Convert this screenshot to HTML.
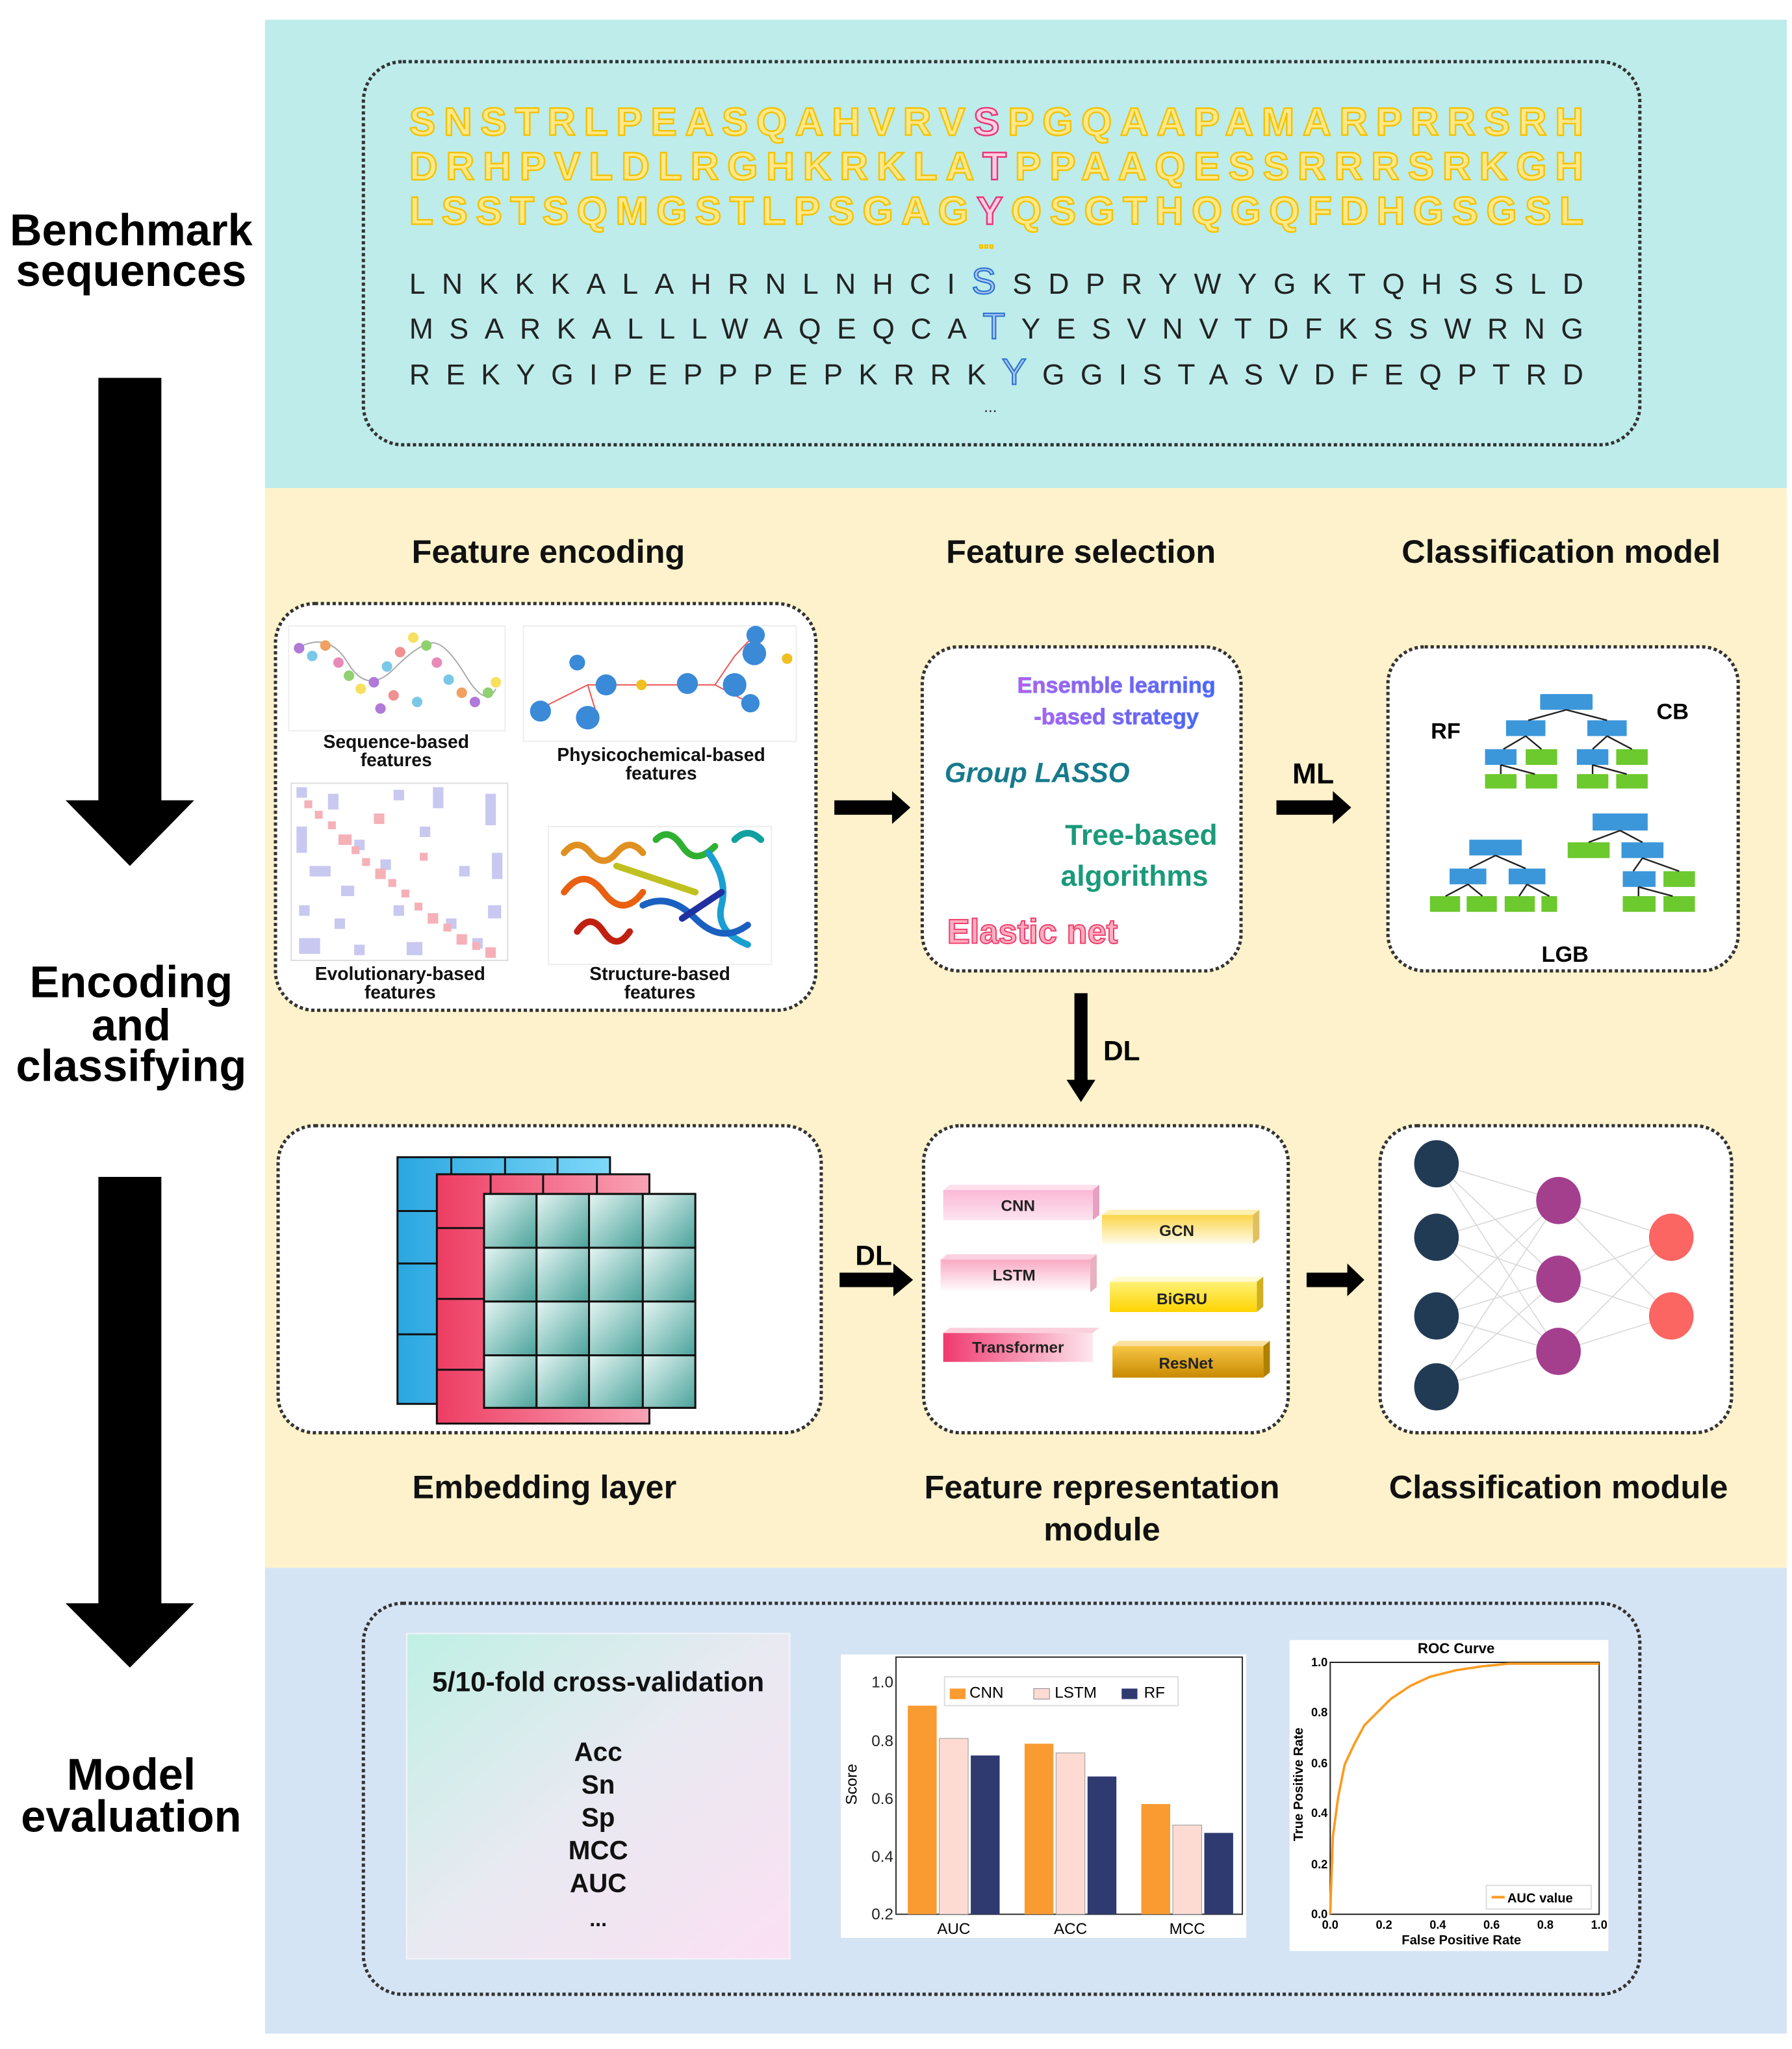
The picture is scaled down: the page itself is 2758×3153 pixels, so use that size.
<!DOCTYPE html>
<html><head><meta charset="utf-8"><style>
html,body{margin:0;padding:0;background:#fff}
svg{display:block}
text{font-family:"Liberation Sans",sans-serif}
</style></head><body>
<svg width="2758" height="3153" viewBox="0 0 1366 1561.7" preserveAspectRatio="none" xmlns="http://www.w3.org/2000/svg">
<defs>
<linearGradient id="gcv" x1="0" y1="0" x2="1" y2="1"><stop offset="0" stop-color="#bff0e4"/><stop offset="0.5" stop-color="#e9e9f2"/><stop offset="1" stop-color="#fbe0f3"/></linearGradient>
<linearGradient id="gpk" x1="0" y1="0" x2="0" y2="1"><stop offset="0" stop-color="#fbb8d6"/><stop offset="1" stop-color="#fde4ef"/></linearGradient>
<linearGradient id="gls" x1="0" y1="0" x2="0" y2="1"><stop offset="0" stop-color="#f9a9c3"/><stop offset="1" stop-color="#fff"/></linearGradient>
<linearGradient id="gtr" x1="0" y1="0" x2="1" y2="0"><stop offset="0" stop-color="#f0396f"/><stop offset="1" stop-color="#fde6ee"/></linearGradient>
<linearGradient id="ggc" x1="0" y1="0" x2="0" y2="1"><stop offset="0" stop-color="#fbd54a"/><stop offset="1" stop-color="#fffbe8"/></linearGradient>
<linearGradient id="gbg" x1="0" y1="0" x2="0" y2="1"><stop offset="0" stop-color="#fff176"/><stop offset="1" stop-color="#ffd400"/></linearGradient>
<linearGradient id="grs" x1="0" y1="0" x2="0" y2="1"><stop offset="0" stop-color="#f7c545"/><stop offset="1" stop-color="#c88a00"/></linearGradient>
<linearGradient id="gteal" x1="0" y1="0" x2="1" y2="1"><stop offset="0" stop-color="#e6f5f3"/><stop offset="1" stop-color="#4aa39b"/></linearGradient>
<linearGradient id="gblue" x1="0" y1="0" x2="1" y2="0"><stop offset="0" stop-color="#2aa7e0"/><stop offset="1" stop-color="#7ed8f8"/></linearGradient>
<linearGradient id="gred" x1="0" y1="0" x2="1" y2="0"><stop offset="0" stop-color="#ee3d63"/><stop offset="1" stop-color="#f9a3b6"/></linearGradient>
<linearGradient id="gens" x1="0" y1="0" x2="1" y2="0"><stop offset="0" stop-color="#c05ae8"/><stop offset="1" stop-color="#3a6af0"/></linearGradient>
</defs>

<!-- panels -->
<rect x="202" y="15" width="1160" height="357" fill="#bdeceb"/>
<rect x="202" y="372" width="1160" height="823" fill="#fdf2cb"/>
<rect x="202" y="1195" width="1160" height="355" fill="#d5e4f4"/>

<!-- left labels -->
<g font-weight="bold" font-size="34" text-anchor="middle" fill="#000">
<text x="100" y="187">Benchmark</text>
<text x="100" y="218">sequences</text>
<text x="100" y="760">Encoding</text>
<text x="100" y="793">and</text>
<text x="100" y="824">classifying</text>
<text x="100" y="1364">Model</text>
<text x="100" y="1396">evaluation</text>
</g>
<rect x="75" y="288" width="48" height="323" fill="#000"/>
<polygon points="50,610 148,610 99,660" fill="#000"/>
<rect x="75" y="897" width="48" height="326" fill="#000"/>
<polygon points="50,1222 148,1222 99,1271" fill="#000"/>

<!-- top sequence box -->
<rect x="277" y="47" width="973" height="292" rx="30" fill="none" stroke="#333" stroke-width="2.5" stroke-dasharray="2.5 2"/>
<g font-weight="bold" font-size="30" fill="#ffe88a" stroke="#f4c300" stroke-width="1.2">
<text x="312" y="103" textLength="895" lengthAdjust="spacing">SNSTRLPEASQAHVRV<tspan fill="#ffd0e0" stroke="#e8357a">S</tspan>PGQAAPAMARPRRSRH</text>
<text x="312" y="137" textLength="895" lengthAdjust="spacing">DRHPVLDLRGHKRKLA<tspan fill="#ffd0e0" stroke="#e8357a">T</tspan>PPAAQESSRRRSRKGH</text>
<text x="312" y="171" textLength="895" lengthAdjust="spacing">LSSTSQMGSTLPSGAG<tspan fill="#ffd0e0" stroke="#e8357a">Y</tspan>QSGTHQGQFDHGSGSL</text>
<text x="746" y="189" font-size="14">...</text>
</g>
<g font-size="22" fill="#222">
<text x="312" y="224" textLength="895" lengthAdjust="spacing">LNKKKALAHRNLNHCI<tspan font-size="28" fill="#a8c8f0" stroke="#2a6fd0" stroke-width="1">S</tspan>SDPRYWYGKTQHSSLD</text>
<text x="312" y="258" textLength="895" lengthAdjust="spacing">MSARKALLLWAQEQCA<tspan font-size="28" fill="#a8c8f0" stroke="#2a6fd0" stroke-width="1">T</tspan>YESVNVTDFKSSWRNG</text>
<text x="312" y="293" textLength="895" lengthAdjust="spacing">REKYGIPEPPPEPKRRK<tspan font-size="28" fill="#a8c8f0" stroke="#2a6fd0" stroke-width="1">Y</tspan>GGISTASVDFEQPTRD</text>
<text x="750" y="314" font-size="12">...</text>
</g>

<!-- headings -->
<g font-weight="bold" font-size="25" text-anchor="middle" fill="#111">
<text x="418" y="429">Feature encoding</text>
<text x="824" y="429">Feature selection</text>
<text x="1190" y="429">Classification model</text>
<text x="415" y="1142">Embedding layer</text>
<text x="840" y="1142">Feature representation</text>
<text x="840" y="1174">module</text>
<text x="1188" y="1142">Classification module</text>
</g>

<!-- feature encoding box -->
<rect x="210" y="460" width="412" height="310" rx="30" fill="#fff" stroke="#333" stroke-width="2.5" stroke-dasharray="2.5 2"/>
<rect x="220" y="477" width="165" height="80" fill="#fff" stroke="#eee"/>
<g>
<path d="M225,495 Q250,480 265,505 T300,510 T330,490 T355,515 T378,525" fill="none" stroke="#aaa" stroke-width="1"/>
<circle cx="228" cy="494" r="4" fill="#b07ad8"/><circle cx="238" cy="500" r="4" fill="#7ac8e8"/><circle cx="248" cy="492" r="4" fill="#f0a060"/><circle cx="258" cy="505" r="4" fill="#e88ab8"/><circle cx="266" cy="515" r="4" fill="#90d070"/><circle cx="275" cy="525" r="4" fill="#f7e060"/><circle cx="285" cy="520" r="4" fill="#b07ad8"/><circle cx="295" cy="508" r="4" fill="#7ac8e8"/><circle cx="305" cy="497" r="4" fill="#f09090"/><circle cx="315" cy="486" r="4" fill="#f7e060"/><circle cx="325" cy="492" r="4" fill="#90d070"/><circle cx="333" cy="505" r="4" fill="#e88ab8"/><circle cx="342" cy="518" r="4" fill="#7ac8e8"/><circle cx="352" cy="528" r="4" fill="#f0a060"/><circle cx="362" cy="535" r="4" fill="#b07ad8"/><circle cx="372" cy="528" r="4" fill="#90d070"/><circle cx="378" cy="520" r="4" fill="#f7e060"/><circle cx="300" cy="530" r="4" fill="#f09090"/><circle cx="290" cy="540" r="4" fill="#b07ad8"/><circle cx="318" cy="535" r="4" fill="#7ac8e8"/>
</g>
<rect x="399" y="477" width="208" height="88" fill="#fff" stroke="#eee"/>
<g stroke="#e55" stroke-width="1" fill="none"><path d="M412,540 L448,522 L470,522 L500,522 L545,522 L560,500 L575,484"/><path d="M448,522 L455,545"/><path d="M545,522 L570,535"/></g>
<g fill="#3a8ad8"><circle cx="412" cy="542" r="8"/><circle cx="448" cy="547" r="9"/><circle cx="462" cy="522" r="8"/><circle cx="524" cy="521" r="8"/><circle cx="560" cy="522" r="9"/><circle cx="575" cy="498" r="9"/><circle cx="572" cy="536" r="7"/><circle cx="440" cy="505" r="6"/><circle cx="576" cy="484" r="7"/></g>
<circle cx="489" cy="522" r="4" fill="#f0c020"/><circle cx="600" cy="502" r="4" fill="#f0c020"/>
<rect x="222" y="597" width="165" height="135" fill="#fff" stroke="#ddd"/>
<g fill="#c8c8f0">
<rect x="226" y="600" width="8" height="8"/><rect x="250" y="605" width="8" height="12"/><rect x="300" y="602" width="8" height="8"/><rect x="330" y="600" width="8" height="16"/><rect x="370" y="605" width="8" height="24"/><rect x="226" y="630" width="8" height="20"/><rect x="236" y="660" width="16" height="8"/><rect x="270" y="640" width="8" height="8"/><rect x="320" y="630" width="8" height="8"/><rect x="350" y="660" width="8" height="8"/><rect x="375" y="650" width="8" height="20"/><rect x="228" y="690" width="8" height="8"/><rect x="255" y="700" width="8" height="8"/><rect x="300" y="690" width="8" height="8"/><rect x="340" y="700" width="8" height="8"/><rect x="228" y="715" width="16" height="12"/><rect x="270" y="720" width="8" height="8"/><rect x="310" y="718" width="12" height="10"/><rect x="360" y="715" width="8" height="8"/><rect x="372" y="690" width="10" height="10"/><rect x="290" y="655" width="8" height="8"/><rect x="260" y="675" width="10" height="8"/>
</g>
<g fill="#f5b0b8">
<rect x="232" y="610" width="6" height="6"/><rect x="240" y="618" width="6" height="6"/><rect x="250" y="626" width="6" height="6"/><rect x="258" y="636" width="10" height="8"/><rect x="268" y="645" width="6" height="6"/><rect x="276" y="654" width="6" height="6"/><rect x="286" y="662" width="8" height="8"/><rect x="296" y="670" width="6" height="6"/><rect x="306" y="678" width="6" height="6"/><rect x="316" y="688" width="6" height="6"/><rect x="326" y="696" width="8" height="8"/><rect x="338" y="704" width="6" height="6"/><rect x="348" y="712" width="8" height="8"/><rect x="360" y="718" width="6" height="6"/><rect x="370" y="722" width="8" height="8"/><rect x="285" y="620" width="8" height="8"/><rect x="320" y="650" width="6" height="6"/>
</g>
<rect x="418" y="630" width="170" height="105" fill="#fff" stroke="#eee"/>
<g fill="none" stroke-width="5" stroke-linecap="round">
<path d="M430,650 q10,-12 20,0 q10,12 20,0 q10,-12 20,0" stroke="#e09020"/>
<path d="M500,640 q10,-10 20,5 q10,15 25,0" stroke="#30b030"/>
<path d="M430,680 q15,-20 30,0 q15,20 30,0" stroke="#e86010"/>
<path d="M470,660 l60,20" stroke="#c0c020"/>
<path d="M540,650 q15,20 10,40 q-5,20 20,30" stroke="#1a9fd0"/>
<path d="M440,710 q10,-15 20,0 q10,15 20,0" stroke="#c02010"/>
<path d="M490,690 q20,-10 40,10 q20,20 40,5" stroke="#1a60c0"/>
<path d="M520,700 l30,-20" stroke="#2030a0"/>
<path d="M560,640 q10,-10 20,0" stroke="#10a0a0"/>
</g>
<g font-weight="bold" font-size="14" text-anchor="middle" fill="#111">
<text x="302" y="570">Sequence-based</text><text x="302" y="584">features</text>
<text x="504" y="580">Physicochemical-based</text><text x="504" y="594">features</text>
<text x="305" y="747">Evolutionary-based</text><text x="305" y="761">features</text>
<text x="503" y="747">Structure-based</text><text x="503" y="761">features</text>
</g>

<!-- arrows row 1 -->
<rect x="636" y="610" width="46" height="11" fill="#000"/><polygon points="680,603 694,615.5 680,628" fill="#000"/>
<rect x="973" y="610" width="45" height="11" fill="#000"/><polygon points="1016,603 1030,615.5 1016,628" fill="#000"/>
<text x="1001" y="597" font-weight="bold" font-size="22" text-anchor="middle">ML</text>

<!-- feature selection box -->
<rect x="703" y="493" width="243" height="247" rx="28" fill="#fff" stroke="#333" stroke-width="2.5" stroke-dasharray="2.5 2"/>
<g font-weight="bold" text-anchor="middle">
<text x="851" y="528" font-size="17" fill="url(#gens)" stroke="#8080ff" stroke-width="0.5">Ensemble learning</text>
<text x="851" y="552" font-size="17" fill="url(#gens)" stroke="#8080ff" stroke-width="0.5">-based strategy</text>
</g>
<text x="720" y="596" font-family="Liberation Mono" font-weight="bold" font-style="italic" font-size="21" fill="#177a8c">Group LASSO</text>
<text x="928" y="644" font-family="Liberation Mono" font-weight="bold" font-size="22" fill="#1a9a7a" text-anchor="end">Tree-based</text>
<text x="921" y="675" font-family="Liberation Mono" font-weight="bold" font-size="22" fill="#1a9a7a" text-anchor="end">algorithms</text>
<text x="722" y="719" font-weight="bold" font-size="26" fill="#ffb0c0" stroke="#f04070" stroke-width="1">Elastic net</text>

<!-- classification model box -->
<rect x="1058" y="493" width="267" height="247" rx="28" fill="#fff" stroke="#333" stroke-width="2.5" stroke-dasharray="2.5 2"/>
<g font-weight="bold" font-size="17" text-anchor="middle"><text x="1102" y="563">RF</text><text x="1275" y="548">CB</text><text x="1193" y="733">LGB</text></g>
<g fill="#3c97da">
<rect x="1174" y="529" width="40" height="12" rx="1"/><rect x="1148" y="549" width="30" height="12"/><rect x="1210" y="549" width="30" height="12"/>
<rect x="1132" y="571" width="24" height="12"/><rect x="1202" y="571" width="24" height="12"/>
<rect x="1120" y="640" width="40" height="12"/><rect x="1105" y="662" width="28" height="12"/><rect x="1150" y="662" width="28" height="12"/>
<rect x="1214" y="620" width="42" height="13"/><rect x="1236" y="642" width="32" height="12"/><rect x="1237" y="664" width="25" height="12"/>
</g>
<g fill="#6cc92e">
<rect x="1163" y="571" width="24" height="12"/><rect x="1232" y="571" width="24" height="12"/>
<rect x="1132" y="590" width="24" height="11"/><rect x="1163" y="590" width="24" height="11"/><rect x="1202" y="590" width="24" height="11"/><rect x="1232" y="590" width="24" height="11"/>
<rect x="1090" y="683" width="23" height="12"/><rect x="1118" y="683" width="23" height="12"/><rect x="1147" y="683" width="23" height="12"/><rect x="1175" y="683" width="12" height="12"/>
<rect x="1195" y="642" width="32" height="12"/><rect x="1268" y="664" width="24" height="12"/><rect x="1237" y="683" width="25" height="12"/><rect x="1268" y="683" width="24" height="12"/>
</g>
<g stroke="#222" stroke-width="1.2" fill="none">
<path d="M1194,541 L1165,549 M1194,541 L1225,549 M1163,561 L1146,571 M1163,561 L1175,571 M1225,561 L1214,571 M1225,561 L1244,571 M1144,583 L1144,590 M1144,583 L1170,590 M1214,583 L1214,590 M1214,583 L1240,590"/>
<path d="M1140,652 L1120,662 M1140,652 L1163,662 M1119,674 L1102,683 M1119,674 L1130,683 M1164,674 L1158,683 M1164,674 L1181,683"/>
<path d="M1235,633 L1211,642 M1235,633 L1252,642 M1252,654 L1245,664 M1252,654 L1280,664 M1249,676 L1249,683 M1249,676 L1275,683"/>
</g>

<!-- DL vertical -->
<rect x="819" y="757" width="10" height="68" fill="#000"/><polygon points="813,823 835,823 824,840" fill="#000"/>
<text x="855" y="808" font-weight="bold" font-size="21" text-anchor="middle">DL</text>

<!-- row 2 boxes -->
<rect x="212" y="858" width="414" height="234" rx="28" fill="#fff" stroke="#333" stroke-width="2.5" stroke-dasharray="2.5 2"/>
<rect x="704" y="858" width="278" height="234" rx="28" fill="#fff" stroke="#333" stroke-width="2.5" stroke-dasharray="2.5 2"/>
<rect x="1052" y="858" width="268" height="234" rx="28" fill="#fff" stroke="#333" stroke-width="2.5" stroke-dasharray="2.5 2"/>

<!-- embedding grids -->
<g stroke="#111" stroke-width="1.5">
<rect x="303" y="882" width="162" height="188" fill="url(#gblue)"/>
<path d="M344,882 V895 M385,882 V895 M425,882 V895 M303,923 H333 M303,963 H333 M303,1017 H333" fill="none"/>
<rect x="333" y="895" width="162" height="190" fill="url(#gred)"/>
<path d="M374,895 V910 M414,895 V910 M455,895 V910 M333,936 H369 M333,990 H369 M333,1044 H369" fill="none"/>
<rect x="369" y="910" width="161" height="163" fill="#fff"/>
</g>
<g stroke="#111" stroke-width="1.5" fill="url(#gteal)">
<rect x="369" y="910" width="40" height="41"/><rect x="409" y="910" width="40" height="41"/><rect x="449" y="910" width="41" height="41"/><rect x="490" y="910" width="40" height="41"/>
<rect x="369" y="951" width="40" height="41"/><rect x="409" y="951" width="40" height="41"/><rect x="449" y="951" width="41" height="41"/><rect x="490" y="951" width="40" height="41"/>
<rect x="369" y="992" width="40" height="41"/><rect x="409" y="992" width="40" height="41"/><rect x="449" y="992" width="41" height="41"/><rect x="490" y="992" width="40" height="41"/>
<rect x="369" y="1033" width="40" height="40"/><rect x="409" y="1033" width="40" height="40"/><rect x="449" y="1033" width="41" height="40"/><rect x="490" y="1033" width="40" height="40"/>
</g>

<!-- DL horizontal -->
<rect x="640" y="970" width="42" height="11" fill="#000"/><polygon points="681,963 696,975.5 681,988" fill="#000"/>
<text x="666" y="964" font-weight="bold" font-size="21" text-anchor="middle">DL</text>
<rect x="996" y="970" width="32" height="11" fill="#000"/><polygon points="1027,963 1040,975.5 1027,988" fill="#000"/>

<!-- feature rep blocks -->
<g font-weight="bold" font-size="12" text-anchor="middle" fill="#222">
<polygon points="719,907 724,903 838,903 833,907" fill="#fde0ec"/><polygon points="833,907 838,903 838,926 833,930" fill="#e8a0c0"/>
<rect x="719" y="907" width="114" height="23" fill="url(#gpk)"/><text x="776" y="923">CNN</text>
<polygon points="840,926 845,922 960,922 955,926" fill="#fff0b0"/><polygon points="955,926 960,922 960,944 955,948" fill="#e0c060"/>
<rect x="840" y="926" width="115" height="22" fill="url(#ggc)"/><text x="897" y="942">GCN</text>
<polygon points="717,960 722,956 836,956 831,960" fill="#fbd0e0"/><polygon points="831,960 836,956 836,981 831,985" fill="#e8b0c0"/>
<rect x="717" y="960" width="114" height="25" fill="url(#gls)"/><text x="773" y="976">LSTM</text>
<polygon points="846,977 851,973 963,973 958,977" fill="#fffad0"/><polygon points="958,977 963,973 963,996 958,1000" fill="#d0b020"/>
<rect x="846" y="977" width="112" height="23" fill="url(#gbg)"/><text x="901" y="994">BiGRU</text>
<polygon points="719,1016 724,1012 838,1012 833,1016" fill="#fbd0dc"/>
<rect x="719" y="1016" width="114" height="22" fill="url(#gtr)"/><text x="776" y="1031">Transformer</text>
<polygon points="848,1026 853,1022 968,1022 963,1026" fill="#fbe0a0"/><polygon points="963,1026 968,1022 968,1046 963,1050" fill="#b08000"/>
<rect x="848" y="1026" width="115" height="24" fill="url(#grs)"/><text x="904" y="1043">ResNet</text>
</g>

<!-- neural net -->
<g stroke="#d8d8d8" stroke-width="0.8">
<path d="M1095,887 L1188,915 M1095,887 L1188,975 M1095,887 L1188,1030 M1095,943 L1188,915 M1095,943 L1188,975 M1095,943 L1188,1030 M1095,1003 L1188,915 M1095,1003 L1188,975 M1095,1003 L1188,1030 M1095,1057 L1188,915 M1095,1057 L1188,975 M1095,1057 L1188,1030 M1188,915 L1274,943 M1188,915 L1274,1003 M1188,975 L1274,943 M1188,975 L1274,1003 M1188,1030 L1274,943 M1188,1030 L1274,1003"/>
</g>
<g fill="#223b55"><ellipse cx="1095" cy="887" rx="17" ry="18"/><ellipse cx="1095" cy="943" rx="17" ry="18"/><ellipse cx="1095" cy="1003" rx="17" ry="18"/><ellipse cx="1095" cy="1057" rx="17" ry="18"/></g>
<g fill="#a43f8e"><ellipse cx="1188" cy="915" rx="17" ry="18"/><ellipse cx="1188" cy="975" rx="17" ry="18"/><ellipse cx="1188" cy="1030" rx="17" ry="18"/></g>
<g fill="#fb6562"><ellipse cx="1274" cy="943" rx="17" ry="18"/><ellipse cx="1274" cy="1003" rx="17" ry="18"/></g>

<!-- bottom box -->
<rect x="277" y="1222" width="973" height="298" rx="30" fill="none" stroke="#333" stroke-width="2.5" stroke-dasharray="2.5 2"/>
<rect x="310" y="1245" width="292" height="248" fill="url(#gcv)" stroke="#f4f4f8"/>
<g font-weight="bold" text-anchor="middle" fill="#111">
<text x="456" y="1289" font-size="21">5/10-fold cross-validation</text>
<text x="456" y="1342" font-size="20">Acc</text><text x="456" y="1367" font-size="20">Sn</text><text x="456" y="1392" font-size="20">Sp</text><text x="456" y="1417" font-size="20">MCC</text><text x="456" y="1442" font-size="20">AUC</text><text x="456" y="1468" font-size="16">...</text>
</g>

<!-- bar chart -->
<rect x="641" y="1261" width="309" height="216" fill="#fff"/>
<rect x="683" y="1263" width="264" height="196" fill="none" stroke="#333" stroke-width="1"/>
<g font-size="12" fill="#222" text-anchor="end">
<text x="681" y="1286">1.0</text><text x="681" y="1331">0.8</text><text x="681" y="1375">0.6</text><text x="681" y="1419">0.4</text><text x="681" y="1463">0.2</text>
</g>
<text x="653" y="1360" font-size="12" transform="rotate(-90 653 1360)" text-anchor="middle">Score</text>
<g>
<rect x="692" y="1300" width="22" height="159" fill="#fa9b32"/><rect x="716" y="1325" width="22" height="134" fill="#fddbd3" stroke="#999" stroke-width="0.5"/><rect x="740" y="1338" width="22" height="121" fill="#2e3a70"/>
<rect x="781" y="1329" width="22" height="130" fill="#fa9b32"/><rect x="805" y="1336" width="22" height="123" fill="#fddbd3" stroke="#999" stroke-width="0.5"/><rect x="829" y="1354" width="22" height="105" fill="#2e3a70"/>
<rect x="870" y="1375" width="22" height="84" fill="#fa9b32"/><rect x="894" y="1391" width="22" height="68" fill="#fddbd3" stroke="#999" stroke-width="0.5"/><rect x="918" y="1397" width="22" height="62" fill="#2e3a70"/>
</g>
<g font-size="12" text-anchor="middle"><text x="727" y="1474">AUC</text><text x="816" y="1474">ACC</text><text x="905" y="1474">MCC</text></g>
<rect x="720" y="1278" width="178" height="22" fill="#fff" stroke="#ddd"/>
<rect x="724" y="1287" width="12" height="8" fill="#fa9b32"/><text x="739" y="1294" font-size="12">CNN</text>
<rect x="788" y="1287" width="12" height="8" fill="#fddbd3" stroke="#888" stroke-width="0.5"/><text x="804" y="1294" font-size="12">LSTM</text>
<rect x="855" y="1287" width="12" height="8" fill="#2e3a70"/><text x="872" y="1294" font-size="12">RF</text>

<!-- ROC -->
<rect x="983" y="1250" width="243" height="237" fill="#fff"/>
<text x="1110" y="1260" font-size="11" font-weight="bold" text-anchor="middle">ROC Curve</text>
<rect x="1014" y="1267" width="205" height="192" fill="none" stroke="#222" stroke-width="1"/>
<g font-size="9" font-weight="bold" text-anchor="end"><text x="1012" y="1270">1.0</text><text x="1012" y="1308">0.8</text><text x="1012" y="1347">0.6</text><text x="1012" y="1385">0.4</text><text x="1012" y="1424">0.2</text><text x="1012" y="1462">0.0</text></g>
<g font-size="9" font-weight="bold" text-anchor="middle"><text x="1014" y="1470">0.0</text><text x="1055" y="1470">0.2</text><text x="1096" y="1470">0.4</text><text x="1137" y="1470">0.6</text><text x="1178" y="1470">0.8</text><text x="1219" y="1470">1.0</text></g>
<text x="1114" y="1482" font-size="10" font-weight="bold" text-anchor="middle">False Positive Rate</text>
<text x="993" y="1360" font-size="10" font-weight="bold" text-anchor="middle" transform="rotate(-90 993 1360)">True Positive Rate</text>
<path d="M1014,1459 L1016,1400 L1020,1370 L1025,1345 L1032,1330 L1040,1315 L1050,1305 L1060,1295 L1075,1285 L1090,1278 L1110,1273 L1130,1270 L1150,1268 L1219,1268" fill="none" stroke="#fa9b20" stroke-width="1.8"/>
<rect x="1133" y="1437" width="80" height="18" fill="#fff" stroke="#ddd"/>
<line x1="1137" y1="1446" x2="1147" y2="1446" stroke="#fa9b20" stroke-width="2"/>
<text x="1149" y="1450" font-size="10" font-weight="bold">AUC value</text>
</svg>
</body></html>
